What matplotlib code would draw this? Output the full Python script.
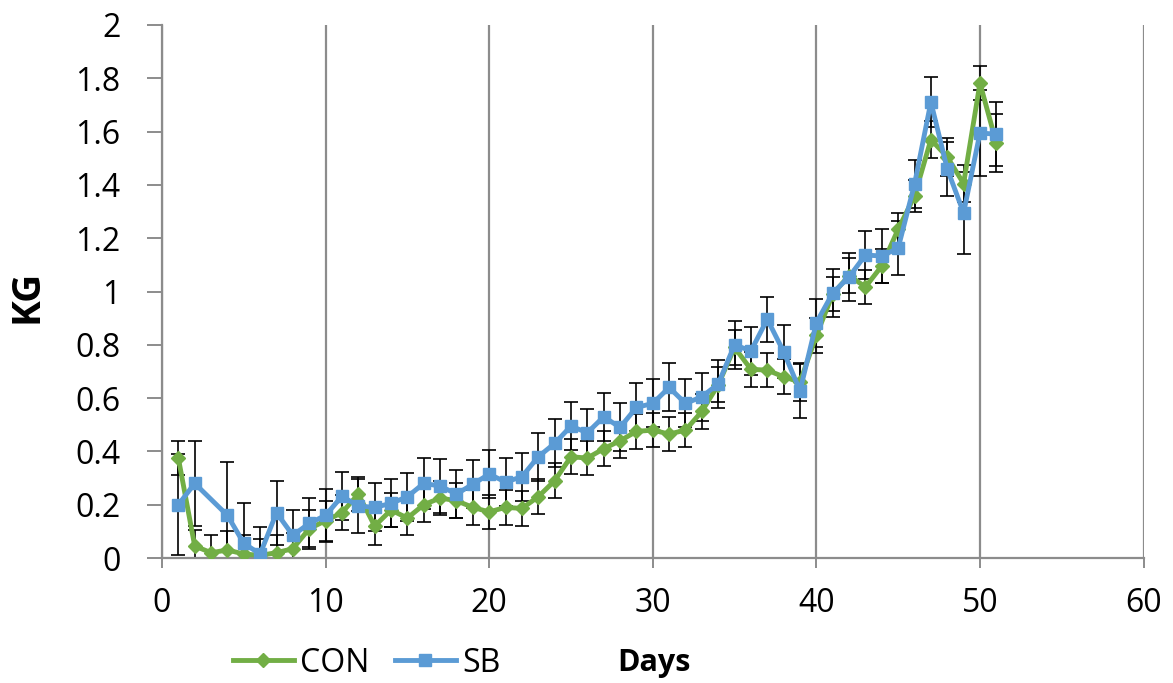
import matplotlib
matplotlib.use("Agg")
import matplotlib.pyplot as plt
import numpy as np

plt.rcParams['font.family'] = ['Open Sans', 'DejaVu Sans']

con_days = list(range(1, 52))
con_vals = [0.375, 0.045, 0.02, 0.03, 0.015, 0.01, 0.02, 0.035, 0.11, 0.14,
            0.17, 0.24, 0.12, 0.18, 0.15, 0.20, 0.225, 0.215, 0.19, 0.173,
            0.19, 0.186, 0.23, 0.29, 0.38, 0.375, 0.41, 0.44, 0.475, 0.48,
            0.465, 0.48, 0.55, 0.65, 0.79, 0.708, 0.705, 0.68, 0.66, 0.835,
            0.99, 1.06, 1.017, 1.096, 1.234, 1.358, 1.57, 1.505, 1.405, 1.782,
            1.557]
con_err = [0.065, 0.06, 0.065, 0.07, 0.07, 0.06, 0.065, 0.06, 0.07, 0.075,
           0.065, 0.065, 0.07, 0.065, 0.065, 0.065, 0.065, 0.065, 0.065, 0.065,
           0.065, 0.065, 0.065, 0.065, 0.065, 0.065, 0.065, 0.065, 0.065, 0.065,
           0.065, 0.065, 0.065, 0.065, 0.065, 0.065, 0.065, 0.065, 0.07, 0.065,
           0.065, 0.065, 0.065, 0.065, 0.06, 0.06, 0.07, 0.07, 0.07, 0.065,
           0.11]

sb_days = [1, 2] + list(range(4, 52))
sb_vals = [0.20, 0.28, 0.16, 0.055, 0.015, 0.17, 0.085, 0.13, 0.16,
           0.232, 0.195, 0.19, 0.205, 0.23, 0.28, 0.27, 0.24, 0.277, 0.315,
           0.285, 0.305, 0.38, 0.43, 0.495, 0.47, 0.53, 0.49, 0.565, 0.58,
           0.64, 0.58, 0.605, 0.653, 0.80, 0.777, 0.896, 0.774, 0.627, 0.883,
           0.994, 1.055, 1.137, 1.133, 1.163, 1.403, 1.711, 1.46, 1.295, 1.595,
           1.59]
sb_err = [0.19, 0.16, 0.20, 0.15, 0.10, 0.12, 0.095, 0.095, 0.10,
          0.09, 0.10, 0.09, 0.09, 0.09, 0.095, 0.10, 0.09, 0.09, 0.09,
          0.09, 0.09, 0.09, 0.09, 0.09, 0.09, 0.09, 0.09, 0.09, 0.09,
          0.09, 0.09, 0.09, 0.09, 0.09, 0.09, 0.085, 0.10, 0.10, 0.09,
          0.09, 0.09, 0.09, 0.10, 0.10, 0.09, 0.095, 0.10, 0.155, 0.16,
          0.12]

x_ticks = [0, 10, 20, 30, 40, 50, 60]
y_ticks = [0, 0.2, 0.4, 0.6, 0.8, 1.0, 1.2, 1.4, 1.6, 1.8, 2.0]
y_labels = ['0', '0.2', '0.4', '0.6', '0.8', '1', '1.2', '1.4', '1.6', '1.8', '2']

green = '#72AE45'
blue = '#5B9BD5'
grid_c = '#8C8C8C'

fig = plt.figure(figsize=(11.73, 6.83), dpi=100)
ax = fig.add_axes([0.1381, 0.183, 0.8368, 0.7804])

ax.errorbar(con_days, con_vals, yerr=con_err, fmt='none', ecolor='black',
            elinewidth=1.2, capsize=4.8, capthick=1.2, zorder=2)
ax.errorbar(sb_days, sb_vals, yerr=sb_err, fmt='none', ecolor='black',
            elinewidth=1.2, capsize=4.8, capthick=1.2, zorder=2)
l1, = ax.plot(con_days, con_vals, color=green, lw=3.5, marker='D',
              markersize=7.5, zorder=3, label='CON')
l2, = ax.plot(sb_days, sb_vals, color=blue, lw=3.5, marker='s',
              markersize=9, zorder=4, label='SB')

ax.set_xlim(0, 60)
ax.set_ylim(0, 2)
ax.set_xticks(x_ticks)
ax.set_yticks(y_ticks)
ax.set_yticklabels(y_labels)
ax.tick_params(axis='both', labelsize=23, colors=grid_c, labelcolor='black',
               width=1.4, direction='out')
ax.tick_params(axis='x', length=7, pad=14)
ax.tick_params(axis='y', length=11, pad=19)
ax.xaxis.grid(True, color=grid_c, lw=1.6)
ax.set_axisbelow(True)
for s in ['top', 'right']:
    ax.spines[s].set_visible(False)
for s in ['left', 'bottom']:
    ax.spines[s].set_color(grid_c)
    ax.spines[s].set_linewidth(1.6)

fig.text(27 / 1173, 1 - 296 / 683, 'KG', fontsize=28, fontweight='bold',
         rotation=90, ha='center', va='center')
fig.text(654 / 1173, 1 - 663 / 683, 'Days', fontsize=22, fontweight='bold',
         ha='center', va='center')
fig.legend(handles=[l1, l2], loc='center left',
           bbox_to_anchor=(233 / 1173, 1 - 663 / 683),
           ncol=2, frameon=False, fontsize=23, handlelength=1.9,
           handletextpad=0.2, columnspacing=0.8, borderaxespad=0,
           borderpad=0)

fig.savefig('out.png', dpi=100)
